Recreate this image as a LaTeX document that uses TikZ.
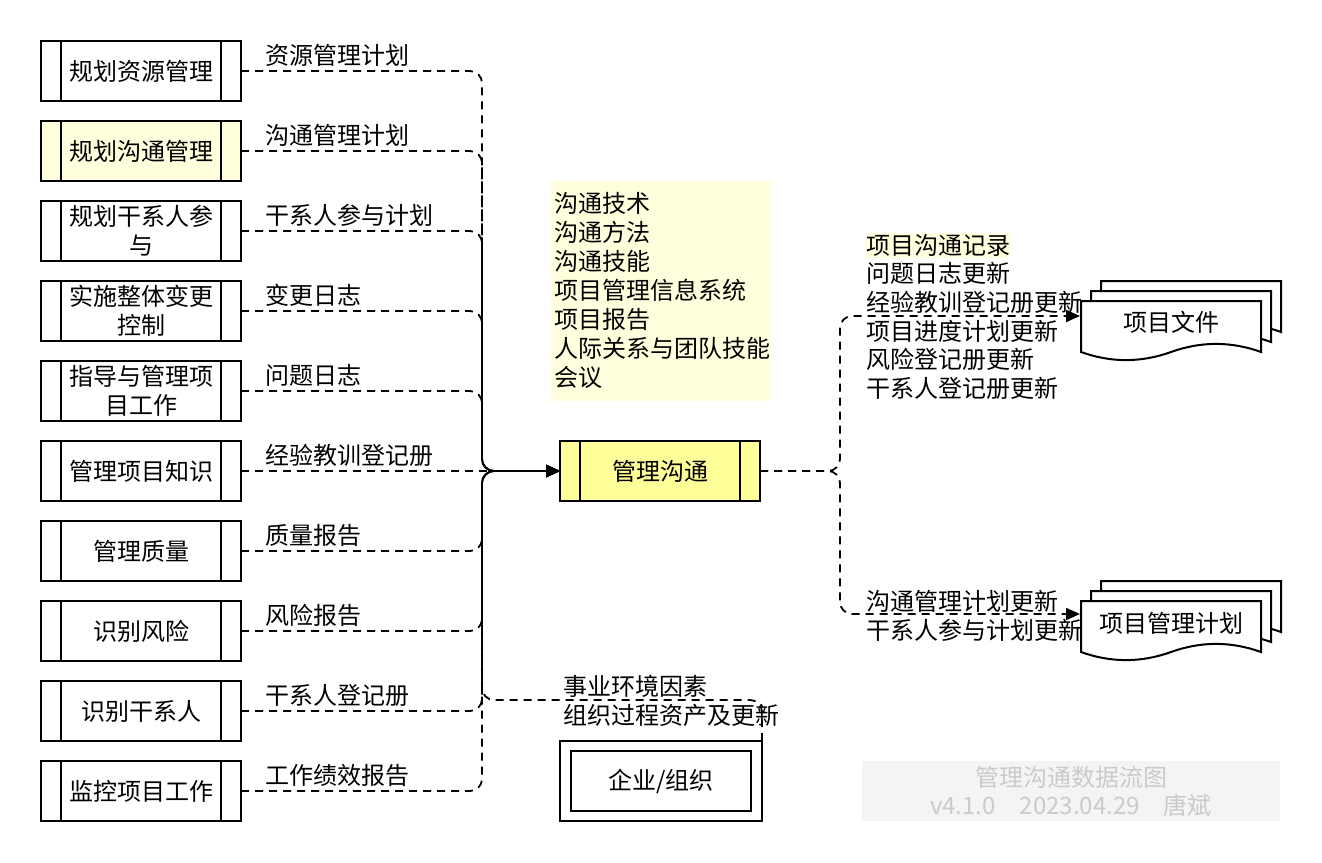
\documentclass[tikz,border=0pt]{standalone}
\usepackage{fontspec}
\setmainfont{Noto Sans CJK SC}
\usetikzlibrary{arrows.meta,calc}
\definecolor{paley}{HTML}{FFFFDD}
\definecolor{mainy}{HTML}{FFFF99}
\definecolor{wmbg}{HTML}{F4F4F4}
\definecolor{wmfg}{HTML}{CBCBCB}
\newcommand\mydocshape[2]{%
  \begin{scope}[shift={(#1,#2)}]
    \draw[line width=2pt, fill=white] (0,0) -- (180,0) -- (180,51)
      .. controls (150,40.2) and (120,40.2) .. (90,51)
      .. controls (60,61.8) and (30,61.8) .. (0,51) -- cycle;
  \end{scope}}
\begin{document}
\begin{tikzpicture}[x=1pt,y=-1pt,
  every node/.style={font=\fontsize{24}{29}\selectfont, outer sep=0pt},
  proc/.style={draw, line width=2pt, minimum width=200pt, minimum height=60pt, fill=white, align=center, inner sep=0pt},
  flow/.style={line width=1.8pt, dash pattern=on 8pt off 6pt, rounded corners=12pt, -{Triangle[length=14pt,width=12pt]}},
  lbl/.style={anchor=west, inner sep=0pt, text height=20pt, text depth=2pt},
]
\useasboundingbox (0,0) rectangle (1322,862);

% tools block
\node[fill=paley, minimum width=220pt, minimum height=220pt, inner sep=0pt] (toolsbg) at (661,291) {};
\foreach \t [count=\k from 0] in {沟通技术,沟通方法,沟通技能,项目管理信息系统,项目报告,人际关系与团队技能,会议}
  \node[lbl] (tool\k) at (554,{203+29*\k}) {\t};

% process boxes
\node[proc] (b1) at (141,71) {规划资源管理};
\node[proc, fill=paley] (b2) at (141,151) {规划沟通管理};
\node[proc] (b3) at (141,231) {规划干系人参\\与};
\node[proc] (b4) at (141,311) {实施整体变更\\控制};
\node[proc] (b5) at (141,391) {指导与管理项\\目工作};
\node[proc] (b6) at (141,471) {管理项目知识};
\node[proc] (b7) at (141,551) {管理质量};
\node[proc] (b8) at (141,631) {识别风险};
\node[proc] (b9) at (141,711) {识别干系人};
\node[proc] (b10) at (141,791) {监控项目工作};
\foreach \i in {1,...,10} {
  \draw[line width=2pt] ([xshift=20pt]b\i.north west) -- ([xshift=20pt]b\i.south west);
  \draw[line width=2pt] ([xshift=-20pt]b\i.north east) -- ([xshift=-20pt]b\i.south east);
}

% main process
\node[proc, fill=mainy] (main) at (660,471) {管理沟通};
\draw[line width=2pt] ([xshift=20pt]main.north west) -- ([xshift=20pt]main.south west);
\draw[line width=2pt] ([xshift=-20pt]main.north east) -- ([xshift=-20pt]main.south east);

% enterprise
\node[draw, line width=2pt, minimum width=202pt, minimum height=80pt, inner sep=0pt] (ent) at (661,781) {};
\node[draw, line width=2pt, minimum width=180pt, minimum height=60pt, inner sep=0pt] (entin) at (661,781) {企业/组织};

% input labels
\foreach \t [count=\k from 0] in {资源管理计划,沟通管理计划,干系人参与计划,变更日志,问题日志,经验教训登记册,质量报告,风险报告,干系人登记册,工作绩效报告}
  \node[lbl] (in\k) at (265,{55+80*\k}) {\t};

% input flows
\coordinate (bus) at (482,471);
\foreach \i in {1,2,3,4,5,7,8,9,10}
  \draw[flow] (b\i.east) -| (bus) -- (main.west);
\draw[flow] (b6.east) -- (main.west);
\coordinate (eefc) at (482,700);
\draw[flow] (ent.north east) |- (eefc) -- (bus) -- (main.west);
\node[anchor=west, inner sep=0pt, align=left] (eeflbl) at (563,701) {事业环境因素\\组织过程资产及更新};

% output flows
\coordinate (split) at (840,471);
\coordinate (doc1in) at (1080,316);
\coordinate (doc2in) at (1080,614);
\draw[flow] (main.east) -- (split) |- (doc1in);
\draw[flow] (main.east) -- (split) |- (doc2in);

% output labels
\node[lbl, fill=paley, inner ysep=1.5pt] (o0) at (866,245) {项目沟通记录};
\node[lbl] (o1) at (866,273.7) {问题日志更新};
\node[lbl] (o2) at (866,302.4) {经验教训登记册更新};
\node[lbl] (o3) at (866,331.1) {项目进度计划更新};
\node[lbl] (o4) at (866,359.8) {风险登记册更新};
\node[lbl] (o5) at (866,388.5) {干系人登记册更新};
\node[lbl] (o6) at (866,601.7) {沟通管理计划更新};
\node[lbl] (o7) at (866,630) {干系人参与计划更新};

% documents
\mydocshape{1101}{281}
\mydocshape{1091}{291}
\mydocshape{1081}{301}
\node (doc1) at (1171,322) {项目文件};
\mydocshape{1101}{581}
\mydocshape{1091}{591}
\mydocshape{1081}{601}
\node (doc2) at (1171,623) {项目管理计划};

% watermark
\node[fill=wmbg, minimum width=418pt, minimum height=60pt, inner sep=0pt] (wm) at (1071,791) {};
\node[text=wmfg, inner sep=0pt] (wm1) at (1071,777) {管理沟通数据流图};
\node[text=wmfg, inner sep=0pt] (wm2) at (1071,805) {v4.1.0\hspace{24pt}2023.04.29\hspace{24pt}唐斌};
\end{tikzpicture}
\end{document}
